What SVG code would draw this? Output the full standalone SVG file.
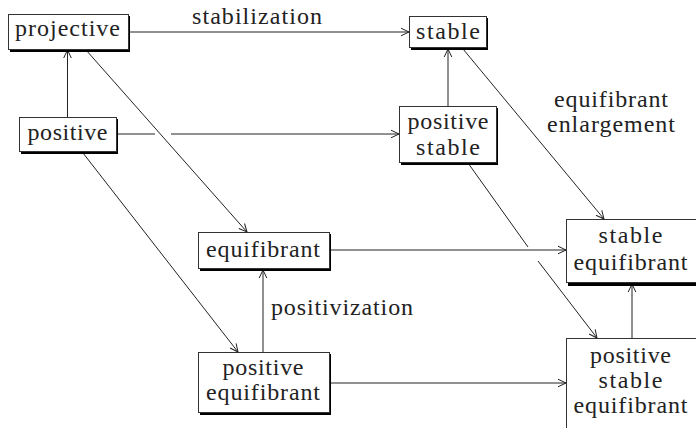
<svg xmlns="http://www.w3.org/2000/svg" width="696" height="428" viewBox="0 0 696 428">
<defs>
<marker id="ah" markerUnits="userSpaceOnUse" markerWidth="12" markerHeight="12" viewBox="-10 -6 12 12" refX="0" refY="0" orient="auto">
<path d="M -8 -3.8 L 0 0 L -8 3.8" fill="none" stroke="#222" stroke-width="1"/>
</marker>
</defs>
<rect width="696" height="428" fill="#fff"/>
<g id="connectors" stroke="#222" stroke-width="1" fill="none">
<path d="M130 32 H409" marker-end="url(#ah)"/>
<path d="M67.5 117 V50" marker-end="url(#ah)"/>
<path d="M118 134 H155"/>
<path d="M171 134 H399" marker-end="url(#ah)"/>
<path d="M86 50 L247 232" marker-end="url(#ah)"/>
<path d="M83 153 L238 352" marker-end="url(#ah)"/>
<path d="M263 352 V270" marker-end="url(#ah)"/>
<path d="M448 106 V49" marker-end="url(#ah)"/>
<path d="M463 49 L604 219" marker-end="url(#ah)"/>
<path d="M468 163 L528 247"/>
<path d="M538 261 L597 338" marker-end="url(#ah)"/>
<path d="M331 250 H566" marker-end="url(#ah)"/>
<path d="M331 383 H566" marker-end="url(#ah)"/>
<path d="M632 338 V284" marker-end="url(#ah)"/>
</g>
<g id="labels">
<text style="font-family:'Liberation Serif',serif;font-size:24px;fill:#222;text-anchor:middle" x="257" y="24" textLength="130">stabilization</text>
<text style="font-family:'Liberation Serif',serif;font-size:24px;fill:#222;text-anchor:middle" x="611" y="107" textLength="114">equifibrant</text>
<text style="font-family:'Liberation Serif',serif;font-size:24px;fill:#222;text-anchor:middle" x="611" y="132" textLength="128">enlargement</text>
<text style="font-family:'Liberation Serif',serif;font-size:24px;fill:#222" x="271" y="315" textLength="142">positivization</text>
</g>
<g id="projective">
<rect fill="#000" x="10" y="16" width="120" height="36"/>
<rect fill="#fff" stroke="#333" x="8.5" y="14.5" width="120" height="35"/>
<text style="font-family:'Liberation Serif',serif;font-size:24px;fill:#222;text-anchor:middle" x="67.5" y="36" textLength="105">projective</text>
</g>
<g id="positive">
<rect fill="#000" x="21" y="119" width="97" height="35"/>
<rect fill="#fff" stroke="#333" x="19.5" y="117.5" width="97" height="34"/>
<text style="font-family:'Liberation Serif',serif;font-size:24px;fill:#222;text-anchor:middle" x="67.5" y="140" textLength="80">positive</text>
</g>
<g id="stable">
<rect fill="#000" x="411" y="18" width="77" height="32"/>
<rect fill="#fff" stroke="#333" x="409.5" y="16.5" width="77" height="31"/>
<text style="font-family:'Liberation Serif',serif;font-size:24px;fill:#222;text-anchor:middle" x="448" y="39" textLength="64">stable</text>
</g>
<g id="positive-stable">
<rect fill="#000" x="401" y="108" width="97" height="57"/>
<rect fill="#fff" stroke="#333" x="399.5" y="106.5" width="97" height="56"/>
<text style="font-family:'Liberation Serif',serif;font-size:24px;fill:#222;text-anchor:middle" x="448" y="129" textLength="81">positive</text>
<text style="font-family:'Liberation Serif',serif;font-size:24px;fill:#222;text-anchor:middle" x="448" y="155" textLength="64">stable</text>
</g>
<g id="equifibrant">
<rect fill="#000" x="200" y="234" width="131" height="37"/>
<rect fill="#fff" stroke="#333" x="198.5" y="232.5" width="131" height="36"/>
<text style="font-family:'Liberation Serif',serif;font-size:24px;fill:#222;text-anchor:middle" x="263" y="257" textLength="114">equifibrant</text>
</g>
<g id="positive-equifibrant">
<rect fill="#000" x="200" y="354" width="131" height="61"/>
<rect fill="#fff" stroke="#333" x="198.5" y="352.5" width="131" height="60"/>
<text style="font-family:'Liberation Serif',serif;font-size:24px;fill:#222;text-anchor:middle" x="263" y="375" textLength="81">positive</text>
<text style="font-family:'Liberation Serif',serif;font-size:24px;fill:#222;text-anchor:middle" x="263" y="400" textLength="114">equifibrant</text>
</g>
<g id="stable-equifibrant">
<rect fill="#000" x="568" y="221" width="132" height="65"/>
<rect fill="#fff" stroke="#333" x="566.5" y="219.5" width="132" height="63"/>
<text style="font-family:'Liberation Serif',serif;font-size:24px;fill:#222;text-anchor:middle" x="630.5" y="243" textLength="64">stable</text>
<text style="font-family:'Liberation Serif',serif;font-size:24px;fill:#222;text-anchor:middle" x="630.5" y="270" textLength="114">equifibrant</text>
</g>
<g id="positive-stable-equifibrant">
<rect fill="#000" x="568" y="340" width="132" height="92"/>
<rect fill="#fff" stroke="#333" x="566.5" y="338.5" width="132" height="90"/>
<text style="font-family:'Liberation Serif',serif;font-size:24px;fill:#222;text-anchor:middle" x="630.5" y="363" textLength="81">positive</text>
<text style="font-family:'Liberation Serif',serif;font-size:24px;fill:#222;text-anchor:middle" x="630.5" y="388" textLength="64">stable</text>
<text style="font-family:'Liberation Serif',serif;font-size:24px;fill:#222;text-anchor:middle" x="630.5" y="413" textLength="114">equifibrant</text>
</g>
</svg>
